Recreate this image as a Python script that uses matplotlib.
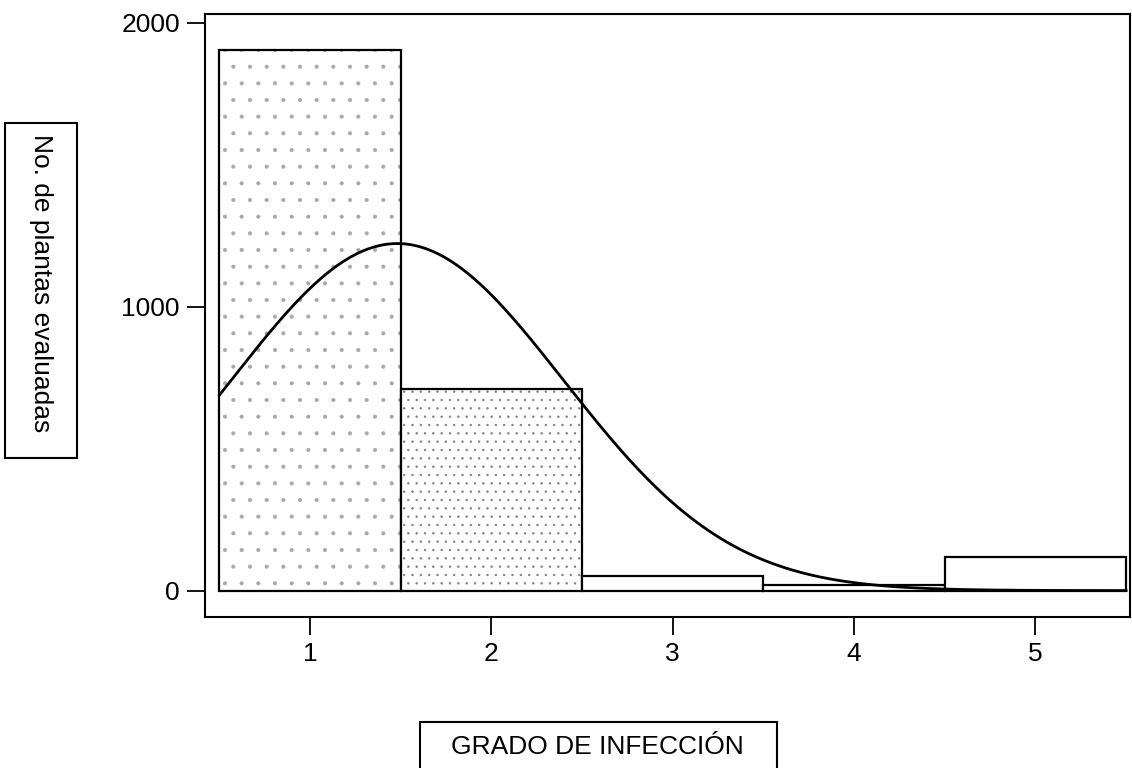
import numpy as np
import matplotlib
matplotlib.use("Agg")
from matplotlib import pyplot as plt
from matplotlib.patches import Rectangle

# Infection grade classes and number of plants in each
grados = [1, 2, 3, 4, 5]
plantas = [1905, 711, 53, 18, 120]
y_ticks = [0, 1000, 2000]

plt.rcParams['font.family'] = ['Liberation Sans', 'DejaVu Sans']
plt.rcParams['hatch.linewidth'] = 0.5

fig = plt.figure(figsize=(11.32, 7.68), dpi=100)
ax = fig.add_axes([0.181, 0.197, 0.817, 0.785])

# stipple pattern on the first two bars (drawn as a hatched fill with no outline)
hatches = ['.', '..', '', '', '']
tonos = ['#a8a8a8', '#808080', 'white', 'white', 'white']
for g, n, h, c in zip(grados, plantas, hatches, tonos):
    ax.bar(g, n, width=1.0, color='white', edgecolor=c, linewidth=0, hatch=h)
    ax.bar(g, n, width=1.0, fill=False, edgecolor='black', linewidth=1.6)

# fitted normal curve from the grouped data
x = np.array(grados, dtype=float)
w = np.array(plantas, dtype=float)
total = w.sum()
media = (x * w).sum() / total
sd = np.sqrt((w * (x - media) ** 2).sum() / total)
xs = np.linspace(0.5, 5.5, 300)
ys = total / (sd * np.sqrt(2 * np.pi)) * np.exp(-0.5 * ((xs - media) / sd) ** 2)
ax.plot(xs, ys, color='black', linewidth=2)

ax.set_xlim(0.42, 5.52)
ax.set_ylim(-92, 2032)
ax.set_xticks(grados)
ax.set_yticks(y_ticks)
ax.tick_params(direction='out', length=13, width=1.3, labelsize=19, pad=5)
for s in ax.spines.values():
    s.set_linewidth(1.5)

# boxed axis labels
fig.patches.append(Rectangle((5 / 1132, 1 - 458 / 768), 72 / 1132, 335 / 768,
                             transform=fig.transFigure, fill=False, edgecolor='black', linewidth=1.5))
fig.text(41 / 1132, 1 - 283 / 768, 'No. de plantas evaluadas', rotation=270,
         ha='center', va='center', fontsize=19)
fig.patches.append(Rectangle((420 / 1132, -0.01), 357 / 1132, 46 / 768 + 0.01,
                             transform=fig.transFigure, fill=False, edgecolor='black', linewidth=1.5))
fig.text(597 / 1132, 1 - 747 / 768, 'GRADO DE INFECCIÓN', ha='center', va='center', fontsize=19)

fig.savefig('out.png', dpi=100)
